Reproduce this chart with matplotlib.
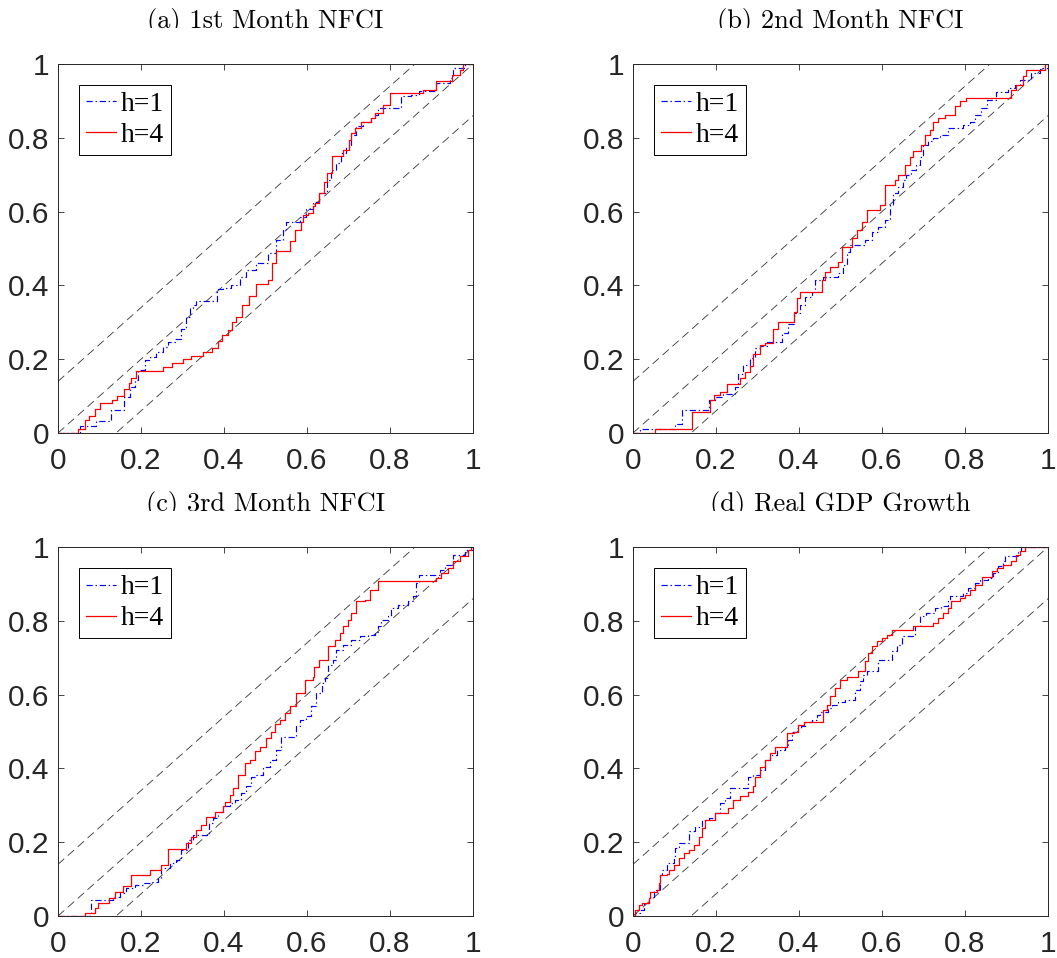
import numpy as np
import matplotlib
matplotlib.use("Agg")
import matplotlib.pyplot as plt
from matplotlib.patches import Rectangle

plt.rcParams['lines.scale_dashes'] = False

# step points (x where the empirical CDF jumps, y after the jump)
a_h1_x = [0, .052, .092, .128, .158, .173, .185, .193, .209, .221, .237, .253, .265, .281, .297, .309, .317, .325,
          .333, .382, .398, .418, .438, .454, .478, .506, .526, .542, .550, .582, .598, .614, .630, .647, .659, .670,
          .683, .695, .707, .719, .735, .755, .763, .771, .827, .851, .871, .911, .944, .952, .980, 1.0]
a_h1_y = [0, .020, .033, .063, .098, .125, .143, .170, .197, .206, .220, .233, .247, .256, .283, .315, .338, .347,
          .358, .389, .392, .400, .424, .442, .460, .487, .523, .550, .573, .586, .606, .627, .650, .686, .713, .731,
          .758, .776, .808, .831, .844, .853, .862, .880, .912, .917, .926, .948, .962, .989, 1.0, 1.0]
a_h4_x = [0, .048, .064, .075, .090, .100, .131, .143, .158, .170, .175, .189, .253, .275, .300, .320, .350, .370,
          .385, .395, .410, .420, .430, .444, .460, .478, .506, .516, .526, .558, .570, .586, .590, .602, .614, .620,
          .630, .640, .647, .660, .687, .700, .707, .715, .730, .755, .763, .783, .800, .880, .910, .950, .968, .976, 1.0]
a_h4_y = [0, .010, .034, .045, .065, .080, .090, .100, .120, .136, .150, .168, .179, .190, .200, .210, .220, .230,
          .250, .265, .280, .300, .315, .347, .370, .405, .415, .460, .493, .520, .550, .573, .590, .597, .614, .623,
          .650, .680, .704, .751, .767, .795, .813, .826, .844, .853, .867, .890, .921, .930, .955, .970, .985, 1.0, 1.0]

b_h1_x = [0, .018, .102, .118, .182, .198, .218, .246, .254, .266, .282, .294, .306, .322, .358, .374, .387, .403,
          .415, .431, .439, .459, .495, .507, .515, .523, .559, .575, .591, .607, .619, .627, .639, .651, .659, .671,
          .683, .691, .699, .711, .723, .739, .759, .795, .811, .823, .839, .852, .875, .904, .920, .932, .960, .980, 1.0]
b_h1_y = [0, .010, .025, .063, .089, .098, .107, .125, .161, .184, .202, .229, .235, .247, .272, .295, .324, .347,
          .369, .383, .414, .424, .433, .455, .491, .510, .523, .546, .559, .577, .618, .650, .668, .686, .700, .713,
          .727, .749, .781, .790, .799, .808, .826, .835, .844, .862, .880, .903, .923, .935, .944, .957, .976, .989, 1.0]
b_h4_x = [0, .054, .142, .186, .194, .210, .226, .258, .270, .282, .290, .306, .318, .338, .350, .387, .395, .403,
          .455, .463, .475, .495, .503, .527, .539, .551, .563, .595, .607, .631, .639, .655, .667, .675, .695, .703,
          .715, .723, .735, .751, .775, .787, .803, .912, .924, .940, .948, .992, 1.0]
b_h4_y = [0, .010, .057, .089, .102, .111, .134, .148, .166, .181, .215, .238, .244, .283, .301, .329, .365, .383,
          .414, .437, .451, .464, .505, .528, .550, .573, .605, .618, .672, .686, .700, .727, .749, .763, .781, .808,
          .822, .844, .853, .862, .885, .899, .908, .930, .944, .967, .985, 1.0, 1.0]

c_h1_x = [0, .076, .080, .133, .149, .165, .185, .205, .221, .241, .249, .269, .285, .297, .313, .325, .365, .373,
          .386, .398, .414, .426, .442, .454, .466, .478, .494, .510, .526, .538, .574, .582, .598, .610, .622, .635,
          .643, .651, .663, .671, .687, .707, .727, .747, .763, .771, .779, .795, .803, .819, .843, .855, .863, .871,
          .920, .932, .952, .980, 1.0]
c_h1_y = [0, .009, .043, .052, .061, .075, .084, .089, .093, .102, .129, .143, .152, .179, .206, .220, .251, .265,
          .283, .297, .306, .315, .333, .351, .378, .382, .405, .423, .450, .486, .514, .532, .541, .568, .604, .631,
          .645, .681, .694, .722, .735, .749, .758, .762, .771, .785, .803, .812, .835, .844, .853, .866, .902, .925,
          .939, .952, .979, .993, 1.0]
c_h4_x = [0, .064, .088, .096, .124, .137, .157, .177, .221, .249, .265, .309, .321, .333, .345, .357, .378, .398,
          .402, .414, .422, .434, .450, .462, .474, .486, .502, .514, .522, .534, .546, .558, .574, .594, .614, .618,
          .630, .651, .667, .679, .687, .699, .707, .719, .739, .751, .771, .912, .924, .940, .952, .968, .988, .996, 1.0]
c_h4_y = [0, .009, .021, .034, .048, .066, .080, .111, .125, .138, .181, .197, .215, .233, .247, .269, .283, .297,
          .310, .328, .346, .382, .414, .423, .446, .459, .482, .500, .521, .532, .550, .568, .604, .640, .649, .676,
          .694, .731, .749, .767, .785, .803, .821, .853, .857, .884, .907, .916, .929, .943, .961, .975, .993, 1.0, 1.0]

d_h1_x = [0, .006, .018, .026, .038, .050, .066, .070, .082, .098, .102, .110, .134, .150, .166, .182, .198, .210,
          .222, .234, .278, .290, .306, .319, .330, .346, .366, .374, .382, .395, .406, .415, .431, .443, .451, .471,
          .479, .495, .511, .535, .547, .555, .563, .591, .623, .635, .647, .679, .691, .707, .727, .743, .759, .763,
          .796, .808, .823, .836, .856, .868, .880, .892, .896, .928, .936, 1.0]
d_h1_y = [0, .007, .016, .034, .052, .071, .111, .125, .143, .156, .184, .197, .229, .242, .260, .265, .278, .306,
          .319, .346, .378, .382, .396, .423, .437, .450, .459, .477, .500, .509, .514, .527, .532, .545, .554, .563,
          .572, .581, .586, .613, .636, .654, .663, .694, .717, .735, .759, .785, .812, .821, .835, .839, .853, .866,
          .875, .889, .902, .911, .916, .929, .948, .961, .975, .988, 1.0, 1.0]
d_h4_x = [0, .006, .014, .022, .038, .042, .058, .062, .066, .082, .086, .098, .110, .122, .134, .146, .158, .166,
          .174, .198, .230, .242, .258, .278, .290, .294, .306, .319, .330, .342, .370, .387, .398, .411, .459, .467,
          .475, .487, .499, .515, .543, .559, .567, .575, .587, .599, .611, .623, .675, .723, .735, .747, .759, .767,
          .788, .800, .812, .823, .840, .864, .876, .892, .912, .924, .932, .944, 1.0]
d_h4_y = [0, .016, .030, .034, .048, .066, .071, .090, .111, .114, .125, .138, .156, .170, .179, .193, .215, .238,
          .260, .278, .292, .315, .324, .337, .351, .378, .405, .423, .441, .459, .495, .500, .518, .527, .559, .572,
          .595, .618, .640, .649, .663, .690, .712, .731, .744, .753, .762, .776, .785, .794, .807, .821, .835, .853,
          .862, .871, .884, .898, .920, .934, .943, .952, .961, .979, .988, 1.0, 1.0]

titles = ['(a) 1st Month NFCI', '(b) 2nd Month NFCI', '(c) 3rd Month NFCI', '(d) Real GDP Growth']
series = [(a_h1_x, a_h1_y, a_h4_x, a_h4_y),
          (b_h1_x, b_h1_y, b_h4_x, b_h4_y),
          (c_h1_x, c_h1_y, c_h4_x, c_h4_y),
          (d_h1_x, d_h1_y, d_h4_x, d_h4_y)]
band = 0.14
ticks = [0, 0.2, 0.4, 0.6, 0.8, 1]
tick_labels = ['0', '0.2', '0.4', '0.6', '0.8', '1']

W, H = 1057, 958
fig = plt.figure(figsize=(W / 100, H / 100), dpi=100)
# axes boxes in pixels: left, top, right, bottom
boxes = [(58, 64, 473, 433), (633, 64, 1048, 433), (58, 547, 473, 916), (633, 547, 1048, 916)]
axc = '#262626'

for box, title, (x1, y1, x4, y4) in zip(boxes, titles, series):
    l, t, r, b = box
    ax = fig.add_axes([l / W, 1 - b / H, (r - l) / W, (b - t) / H])
    g = np.array([0, 1])
    for off in (band, 0, -band):
        ax.plot(g, g + off, color='#333333', lw=0.6, linestyle=(0, (6, 3.5)))
    ax.step(x1, y1, where='post', color='blue', lw=0.85, linestyle=(0, (4.5, 2, 1, 2)), label='h=1')
    ax.step(x4, y4, where='post', color='red', lw=0.9, label='h=4')
    ax.set_xlim(0, 1)
    ax.set_ylim(0, 1)
    ax.set_xticks(ticks)
    ax.set_xticklabels(tick_labels)
    ax.set_yticks(ticks)
    ax.set_yticklabels(tick_labels)
    ax.tick_params(direction='in', length=4, width=0.6, color=axc, top=True, right=True,
                   labelsize=21.5, labelcolor=axc, pad=6)
    ax.tick_params(axis='x', pad=10)
    for lab in ax.get_xticklabels() + ax.get_yticklabels():
        lab.set_family('Liberation Sans')
    for s in ax.spines.values():
        s.set_color(axc)
        s.set_linewidth(0.7)
    ax.set_title(title, fontfamily='cmr10', fontsize=19, pad=26, color='black')
    leg = ax.legend(loc='upper left', prop={'family': 'Liberation Serif', 'size': 20},
                    fancybox=False, framealpha=1, edgecolor='black', handlelength=1.1,
                    handletextpad=0.15, borderpad=0.25, labelspacing=0.2, borderaxespad=0.75)
    leg.get_frame().set_linewidth(0.7)

# the titles are cut just under their baseline in the original
for yb in (28, 511):
    fig.patches.append(Rectangle((0, 1 - (yb + 16) / H), 1, 16 / H, transform=fig.transFigure,
                                 facecolor='white', edgecolor='none', zorder=5))

fig.savefig('out.png', dpi=100)
